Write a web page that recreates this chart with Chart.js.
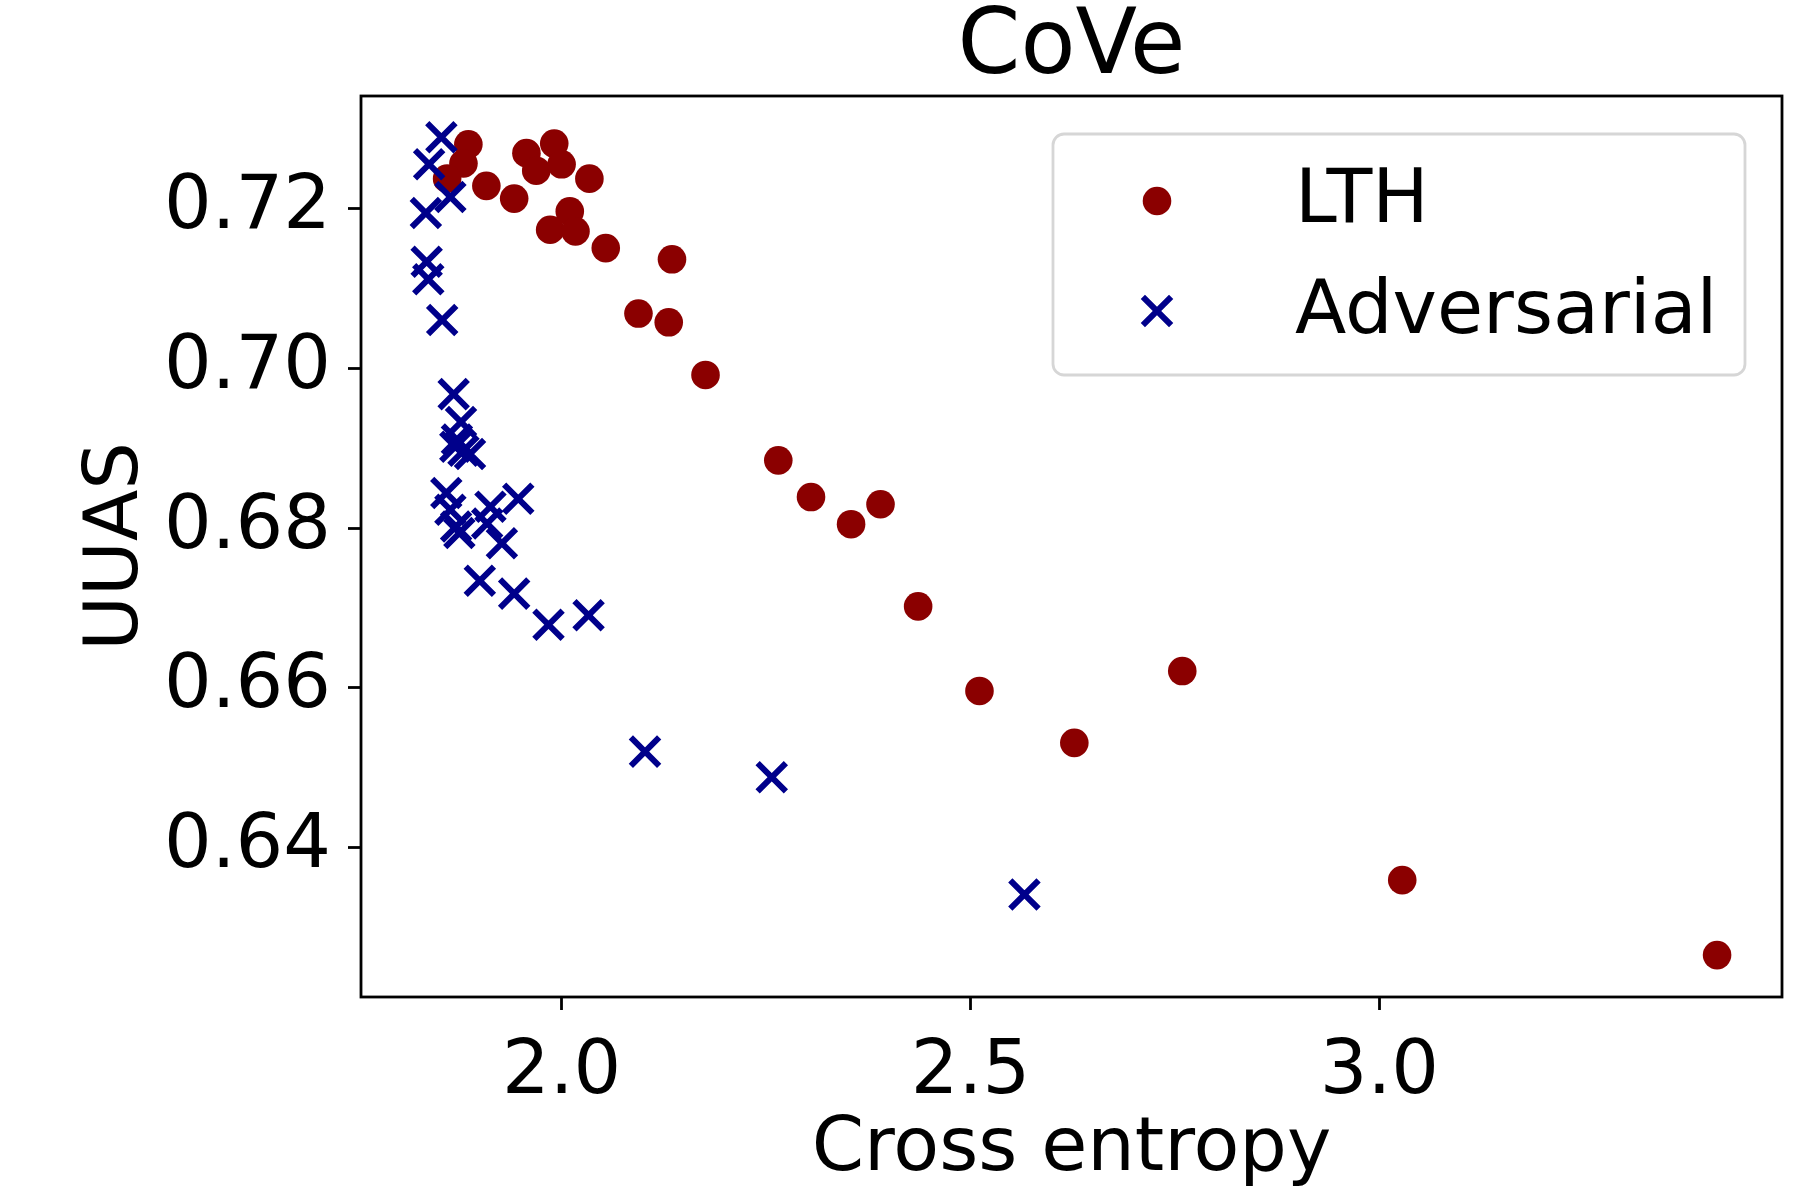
<!DOCTYPE html>
<html>
<head>
<meta charset="utf-8">
<title>CoVe</title>
<script src="https://cdn.jsdelivr.net/npm/chart.js@4.4.1/dist/chart.umd.min.js"></script>
<style>
  html, body { margin: 0; padding: 0; background: #fff; }
  #wrap { width: 1800px; height: 1200px; }
</style>
</head>
<body>
<div id="wrap"><canvas id="chart" width="1800" height="1200"></canvas></div>
<script>
// CoVe: UUAS against cross entropy, LTH vs adversarial runs
const lthX = [1.886, 1.880, 1.860, 1.908, 1.942, 1.957, 1.969, 1.991, 2.000, 2.034,
              2.010, 1.986, 2.017, 2.054, 2.135, 2.094, 2.131, 2.176, 2.265, 2.305,
              2.354, 2.390, 2.436, 2.511, 2.627, 2.759, 3.028, 3.413]
const lthY = [0.7281, 0.7257, 0.7238, 0.7229, 0.7213, 0.7270, 0.7248, 0.7282, 0.7256, 0.7238,
              0.7197, 0.7174, 0.7172, 0.7151, 0.7137, 0.7069, 0.7058, 0.6992, 0.6885, 0.6839,
              0.6805, 0.6830, 0.6702, 0.6596, 0.6531, 0.6621, 0.6359, 0.6265]

const advX = [1.853, 1.838, 1.864, 1.834, 1.835, 1.837, 1.854, 1.868, 1.877, 1.872,
              1.870, 1.880, 1.888, 1.859, 1.864, 1.871, 1.875, 1.913, 1.947, 1.909,
              1.927, 1.900, 1.942, 1.984, 2.033, 2.102, 2.257, 2.566]
const advY = [0.7290, 0.7256, 0.7215, 0.7195, 0.7134, 0.7112, 0.7061, 0.6968, 0.6933, 0.6911,
              0.6902, 0.6897, 0.6893, 0.6844, 0.6823, 0.6802, 0.6794, 0.6827, 0.6837, 0.6806,
              0.6781, 0.6734, 0.6718, 0.6679, 0.6691, 0.6520, 0.6488, 0.6341]

const seriesNames = ['LTH', 'Adversarial']
const xTicks = [2.0, 2.5, 3.0]
const yTicks = [0.64, 0.66, 0.68, 0.70, 0.72]
const xLimits = [1.7547, 3.4924]
const yLimits = [0.62125, 0.73416]

const FONT = "'DejaVu Sans', 'Liberation Sans', sans-serif"
const RED = '#8b0000'
const BLUE = '#00008b'

const toPoints = (xs, ys) => xs.map((x, i) => ({ x: x, y: ys[i] }))

// matplotlib-style full box around the plot
const frame = {
  id: 'frame',
  afterDraw(chart) {
    const { ctx, chartArea: a } = chart
    ctx.save()
    ctx.strokeStyle = '#000'
    ctx.lineWidth = 2.8
    ctx.strokeRect(a.left, a.top, a.right - a.left, a.bottom - a.top)
    ctx.restore()
  }
}

// legend box in the upper right corner of the plot
const cornerLegend = {
  id: 'cornerLegend',
  afterDraw(chart) {
    const { ctx, chartArea: a } = chart
    const w = 692, h = 241
    const bx = a.right - 37 - w
    const by = a.top + 38
    ctx.save()
    ctx.beginPath()
    ctx.roundRect(bx, by, w, h, 11)
    ctx.fillStyle = 'rgba(255,255,255,0.8)'
    ctx.fill()
    ctx.lineWidth = 2.8
    ctx.strokeStyle = '#d6d6d6'
    ctx.stroke()

    chart.data.datasets.forEach((ds, i) => {
      const mx = bx + 104
      const my = by + 67 + i * 110
      if (ds.pointStyle === 'circle') {
        ctx.beginPath()
        ctx.arc(mx, my, ds.pointRadius, 0, Math.PI * 2)
        ctx.fillStyle = ds.backgroundColor
        ctx.fill()
      } else {
        const d = ds.pointRadius * Math.SQRT1_2
        ctx.beginPath()
        ctx.moveTo(mx - d, my - d); ctx.lineTo(mx + d, my + d)
        ctx.moveTo(mx + d, my - d); ctx.lineTo(mx - d, my + d)
        ctx.lineWidth = ds.borderWidth
        ctx.strokeStyle = ds.borderColor
        ctx.stroke()
      }
      ctx.fillStyle = '#000'
      ctx.font = '75px ' + FONT
      ctx.textBaseline = 'alphabetic'
      ctx.textAlign = 'left'
      ctx.fillText(ds.label, bx + 242, by + 88 + i * 111)
    })
    ctx.restore()
  }
}

const tickFont = { family: FONT, size: 75, weight: 'normal' }

new Chart(document.getElementById('chart'), {
  type: 'scatter',
  data: {
    datasets: [
      {
        label: seriesNames[0],
        data: toPoints(lthX, lthY),
        pointStyle: 'circle',
        pointRadius: 14.3,
        backgroundColor: RED,
        borderWidth: 0,
        order: 2
      },
      {
        label: seriesNames[1],
        data: toPoints(advX, advY),
        pointStyle: 'crossRot',
        pointRadius: 20,
        borderColor: BLUE,
        backgroundColor: BLUE,
        borderWidth: 6,
        order: 1
      }
    ]
  },
  options: {
    responsive: false,
    animation: false,
    events: [],
    // no auto padding for marker overflow, the box is placed by hand
    layout: { autoPadding: false, padding: { left: 0, top: 0, bottom: 0, right: 18 } },
    plugins: {
      legend: { display: false },
      tooltip: { enabled: false },
      title: {
        display: true,
        text: 'CoVe',
        fullSize: false,
        color: '#000',
        font: { family: FONT, size: 90, weight: 'normal', lineHeight: 1 },
        padding: { top: 4.5, bottom: 1.5 }
      }
    },
    scales: {
      x: {
        type: 'linear',
        min: xLimits[0],
        max: xLimits[1],
        afterFit: (s) => { s.height = 203; s.paddingLeft = 0; s.paddingRight = 0 },
        afterBuildTicks: (s) => { s.ticks = xTicks.map(v => ({ value: v })) },
        ticks: {
          callback: (v) => v.toFixed(1),
          color: '#000',
          font: tickFont,
          padding: 19,
          maxRotation: 0,
          autoSkip: false
        },
        grid: { drawOnChartArea: false, drawTicks: true, tickLength: 13, tickWidth: 2.8, tickColor: '#000' },
        border: { display: false },
        title: {
          display: true,
          text: 'Cross entropy',
          color: '#000',
          font: { family: FONT, size: 75, weight: 'normal', lineHeight: 1.2 },
          padding: { top: 0, bottom: 4 }
        }
      },
      y: {
        type: 'linear',
        min: yLimits[0],
        max: yLimits[1],
        afterFit: (s) => { s.width = 361; s.paddingTop = 0; s.paddingBottom = 0 },
        afterBuildTicks: (s) => { s.ticks = yTicks.map(v => ({ value: v })) },
        ticks: {
          callback: (v) => v.toFixed(2),
          color: '#000',
          font: tickFont,
          padding: 17,
          autoSkip: false
        },
        grid: { drawOnChartArea: false, drawTicks: true, tickLength: 13, tickWidth: 2.8, tickColor: '#000' },
        border: { display: false },
        title: {
          display: true,
          text: 'UUAS',
          color: '#000',
          font: { family: FONT, size: 75, weight: 'normal', lineHeight: 1.2 },
          padding: { top: 73, bottom: 0 }
        }
      }
    }
  },
  plugins: [frame, cornerLegend]
})
</script>
</body>
</html>
